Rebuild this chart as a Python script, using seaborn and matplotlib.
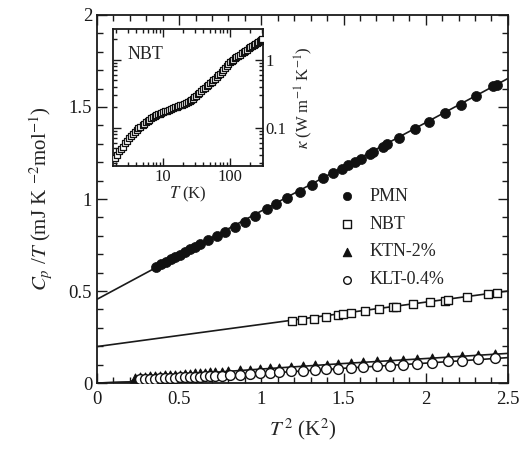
import numpy as np
import pandas as pd
import matplotlib
matplotlib.use("Agg")
import matplotlib.pyplot as plt
import seaborn as sns
from matplotlib.ticker import MultipleLocator, LogLocator, NullFormatter, FixedLocator

sns.set_style("ticks")
plt.rcParams['font.family'] = ['Liberation Serif', 'DejaVu Serif']
plt.rcParams['mathtext.fontset'] = 'stix'

# ---------------- data ----------------
pmn_x = [0.359, 0.387, 0.42, 0.448, 0.474, 0.505, 0.535, 0.566, 0.596, 0.627, 0.677, 0.728,
         0.779, 0.839, 0.9, 0.961, 1.032, 1.092, 1.153, 1.235, 1.305, 1.376, 1.437, 1.488,
         1.529, 1.569, 1.604, 1.66, 1.68, 1.741, 1.766, 1.839, 1.934, 2.021, 2.117, 2.213,
         2.305, 2.411, 2.435]
pmn_y = [0.632, 0.645, 0.658, 0.672, 0.684, 0.698, 0.712, 0.726, 0.741, 0.755, 0.776, 0.799,
         0.822, 0.85, 0.873, 0.91, 0.943, 0.973, 1.003, 1.04, 1.074, 1.113, 1.139, 1.164,
         1.184, 1.203, 1.22, 1.245, 1.258, 1.285, 1.298, 1.333, 1.378, 1.42, 1.465, 1.512,
         1.558, 1.612, 1.622]
pmn_fit_x = [0.0, 2.5]
pmn_fit_y = [0.455, 1.655]

nbt_x = [1.184, 1.245, 1.32, 1.393, 1.468, 1.498, 1.543, 1.63, 1.717, 1.798, 1.822, 1.923,
         2.025, 2.117, 2.137, 2.252, 2.38, 2.435]
nbt_y = [0.339, 0.343, 0.349, 0.36, 0.37, 0.373, 0.378, 0.392, 0.402, 0.411, 0.415, 0.427,
         0.438, 0.447, 0.451, 0.468, 0.484, 0.488]
nbt_fit_x = [0.0, 2.5]
nbt_fit_y = [0.198, 0.500]

ktn_x = [0.23, 0.262, 0.292, 0.322, 0.353, 0.383, 0.414, 0.444, 0.474, 0.505, 0.535, 0.566,
         0.596, 0.627, 0.657, 0.687, 0.718, 0.758, 0.798, 0.87, 0.93, 0.99, 1.05, 1.11, 1.18,
         1.255, 1.326, 1.397, 1.468, 1.545, 1.62, 1.701, 1.782, 1.863, 1.948, 2.039, 2.133,
         2.221, 2.319, 2.421]
ktn_y = [0.028, 0.032, 0.034, 0.036, 0.038, 0.039, 0.041, 0.043, 0.045, 0.046, 0.048, 0.05,
         0.052, 0.054, 0.056, 0.058, 0.06, 0.062, 0.065, 0.069, 0.073, 0.077, 0.081, 0.084, 0.088,
         0.092, 0.096, 0.1, 0.104, 0.108, 0.112, 0.117, 0.122, 0.126, 0.131, 0.137, 0.142,
         0.147, 0.153, 0.159]
ktn_fit_x = [0.0, 0.2, 0.25, 0.5, 1.0, 1.5, 2.0, 2.5]
ktn_fit_y = [0.0, 0.006, 0.028, 0.045, 0.076, 0.106, 0.133, 0.161]

klt_x = [0.262, 0.292, 0.322, 0.353, 0.383, 0.414, 0.444, 0.474, 0.505, 0.535, 0.566, 0.596,
         0.627, 0.657, 0.687, 0.718, 0.758, 0.809, 0.87, 0.93, 0.99, 1.05, 1.11, 1.18, 1.255,
         1.326, 1.393, 1.468, 1.545, 1.62, 1.701, 1.782, 1.863, 1.948, 2.039, 2.133, 2.221,
         2.319, 2.421]
klt_y = [0.02, 0.021, 0.022, 0.024, 0.025, 0.026, 0.027, 0.028, 0.03, 0.031, 0.032, 0.033,
         0.034, 0.036, 0.037, 0.038, 0.04, 0.042, 0.046, 0.049, 0.052, 0.056, 0.059, 0.063, 0.067,
         0.071, 0.074, 0.078, 0.082, 0.086, 0.091, 0.095, 0.1, 0.105, 0.111, 0.117, 0.122,
         0.128, 0.134]
klt_fit_x = [0.0, 0.2, 0.26, 0.5, 1.0, 1.5, 2.0, 2.5]
klt_fit_y = [0.0, 0.005, 0.02, 0.029, 0.051, 0.08, 0.108, 0.138]

inset_T = [1.9, 2.05, 2.2, 2.35, 2.5, 2.7, 2.9, 3.1, 3.3, 3.55, 3.8, 4.05, 4.3, 4.6, 5.0,
           5.3, 5.6, 5.95, 6.3, 6.7, 7.1, 7.5, 8.0, 8.5, 9.0, 9.5, 10, 10.7, 11.5, 12.2, 13,
           14, 15, 16, 17, 18.2, 19.5, 20.7, 22, 23.5, 25, 26.5, 28, 29.5, 31, 33, 35, 37.5,
           40, 42.5, 45, 47.5, 50, 53, 56, 59.5, 63, 66.5, 70, 75, 80, 85, 90, 95, 100, 106,
           112, 118, 125, 132, 140, 150, 160, 170, 180, 190, 200, 212, 225, 237, 250, 265,
           280, 290, 300]
inset_k = [0.036, 0.040, 0.045, 0.049, 0.053, 0.059, 0.065, 0.070, 0.075, 0.081, 0.087, 0.093,
           0.098, 0.104, 0.110, 0.115, 0.120, 0.126, 0.132, 0.138, 0.143, 0.148, 0.153, 0.158,
           0.162, 0.166, 0.170, 0.175, 0.180, 0.185, 0.190, 0.195, 0.200, 0.205, 0.210, 0.215,
           0.220, 0.227, 0.235, 0.242, 0.250, 0.260, 0.270, 0.282, 0.295, 0.312, 0.330, 0.350,
           0.370, 0.390, 0.410, 0.430, 0.450, 0.475, 0.500, 0.530, 0.560, 0.595, 0.630, 0.675,
           0.720, 0.770, 0.820, 0.870, 0.920, 0.960, 1.000, 1.050, 1.100, 1.150, 1.200, 1.260,
           1.320, 1.370, 1.420, 1.485, 1.550, 1.615, 1.680, 1.740, 1.800, 1.860, 1.920, 1.960,
           2.000]

# ---------------- figure ----------------
fig = plt.figure(figsize=(5.28, 4.53), dpi=100)
ax = fig.add_axes([0.1837, 0.1545, 0.7783, 0.8124])

lw = 1.2
for fx, fy in [(pmn_fit_x, pmn_fit_y), (nbt_fit_x, nbt_fit_y),
               (ktn_fit_x, ktn_fit_y), (klt_fit_x, klt_fit_y)]:
    sns.lineplot(x=fx, y=fy, ax=ax, color='#1a1a1a', lw=lw, sort=False, zorder=2)

sns.scatterplot(x=ktn_x, y=ktn_y, ax=ax, marker='^', s=42, color='#111111',
                edgecolor='#111111', linewidth=0.8, zorder=3, label='KTN-2%')
sns.scatterplot(x=klt_x, y=klt_y, ax=ax, marker='o', s=50, color='white',
                edgecolor='#111111', linewidth=1.0, zorder=4, label='KLT-0.4%')
sns.scatterplot(x=nbt_x, y=nbt_y, ax=ax, marker='s', s=38, color='white',
                edgecolor='#111111', linewidth=1.0, zorder=4, label='NBT')
sns.scatterplot(x=pmn_x, y=pmn_y, ax=ax, marker='o', s=52, color='#111111',
                edgecolor='#111111', linewidth=0.5, zorder=4, label='PMN')

ax.set_xlim(0, 2.5)
ax.set_ylim(0, 2)
ax.xaxis.set_major_locator(FixedLocator([0, 0.5, 1, 1.5, 2, 2.5]))
ax.set_xticklabels(['0', '0.5', '1', '1.5', '2', '2.5'])
ax.yaxis.set_major_locator(FixedLocator([0, 0.5, 1, 1.5, 2]))
ax.set_yticklabels(['0', '0.5', '1', '1.5', '2'])
ax.xaxis.set_minor_locator(MultipleLocator(0.1))
ax.yaxis.set_minor_locator(MultipleLocator(0.1))
ax.tick_params(which='both', direction='in', top=True, right=True, width=1.0,
               labelsize=13.5, colors='#1a1a1a')
ax.tick_params(which='major', length=7)
ax.tick_params(which='minor', length=4)
ax.tick_params(axis='x', pad=6)
for sp in ax.spines.values():
    sp.set_linewidth(1.3)
    sp.set_color('#1a1a1a')

ax.set_xlabel(r'$T^{\,2}$ (K$^2$)', fontsize=15, labelpad=6)
ax.set_ylabel(r'$C_p$ /$T$ (mJ K $^{-2}$mol$^{-1}$)', fontsize=15, labelpad=10)

handles, labels = ax.get_legend_handles_labels()
order = [labels.index(n) for n in ['PMN', 'NBT', 'KTN-2%', 'KLT-0.4%']]
leg = ax.legend([handles[i] for i in order], [labels[i] for i in order],
                loc='upper left', bbox_to_anchor=(0.57, 0.55), frameon=False,
                fontsize=13, handletextpad=0.7, labelspacing=0.6, handlelength=1.0,
                borderaxespad=0)
for h, sz in zip(leg.legend_handles, [36, 30, 36, 30]):
    h.set_sizes([sz])

# ---------------- inset ----------------
ins = fig.add_axes([0.214, 0.6336, 0.284, 0.3024])
sns.scatterplot(x=inset_T, y=inset_k, ax=ins, marker='s', s=16, color='white',
                edgecolor='#111111', linewidth=0.9, zorder=3)
ins.set_xscale('log')
ins.set_yscale('log')
ins.set_xlim(1.8, 310)
ins.set_ylim(0.0275, 2.85)
ins.xaxis.set_major_locator(FixedLocator([10, 100]))
ins.set_xticklabels(['10', '100'])
ins.xaxis.set_minor_locator(LogLocator(base=10, subs=np.arange(2, 10)))
ins.xaxis.set_minor_formatter(NullFormatter())
ins.yaxis.set_major_locator(FixedLocator([0.1, 1]))
ins.set_yticklabels(['0.1', '1'])
ins.yaxis.set_minor_locator(LogLocator(base=10, subs=np.arange(2, 10)))
ins.yaxis.set_minor_formatter(NullFormatter())
ins.tick_params(which='both', direction='in', top=True, right=True, left=True,
                labelleft=False, labelright=True, labelsize=12, width=1.0,
                colors='#1a1a1a', pad=2)
ins.tick_params(which='major', length=6)
ins.tick_params(which='minor', length=3)
for sp in ins.spines.values():
    sp.set_linewidth(1.3)
    sp.set_color('#1a1a1a')
ins.yaxis.set_label_position('right')
ins.set_xlabel(r'$T$ (K)', fontsize=12, labelpad=0)
ins.set_ylabel(r'$\kappa$ (W m$^{-1}$ K$^{-1}$)', fontsize=12, labelpad=4)
ins.text(0.1, 0.78, 'NBT', transform=ins.transAxes, fontsize=13)

fig.savefig('out.png', dpi=100)
